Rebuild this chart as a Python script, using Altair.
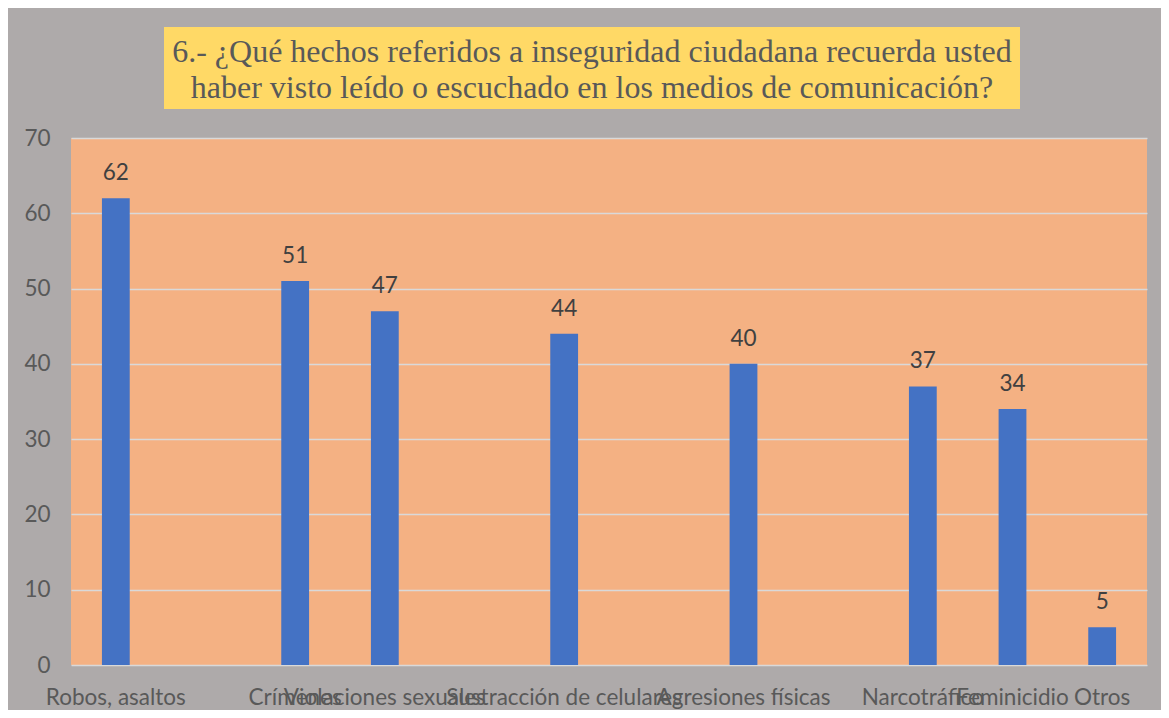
import altair as alt
import pandas as pd

# Slots on the category axis (blank strings are empty slots in the original chart)
slots = ["Robos, asaltos", " ", "Crímenes", "Violaciones sexuales", "  ",
         "Sustracción de celulares", "   ", "Agresiones físicas", "    ",
         "Narcotráfico", "Feminicidio", "Otros"]
categories = ["Robos, asaltos", "Crímenes", "Violaciones sexuales",
              "Sustracción de celulares", "Agresiones físicas",
              "Narcotráfico", "Feminicidio", "Otros"]
values = [62, 51, 47, 44, 40, 37, 34, 5]
y_ticks = [0, 10, 20, 30, 40, 50, 60, 70]
title_lines = ["6.- ¿Qué hechos referidos a inseguridad ciudadana recuerda usted",
               "haber visto leído o escuchado en los medios de comunicación?"]

df = pd.DataFrame({"cat": categories, "val": values})

LABEL_FONT = "Lato"
FS = 22.5
x = alt.X("cat:N", sort=slots,
          scale=alt.Scale(domain=slots, paddingInner=0.69, paddingOuter=0.345),
          axis=alt.Axis(title=None, labelAngle=0, labelFont=LABEL_FONT, labelFontSize=FS,
                        labelColor="#595959", labelOverlap=False, labelLimit=1000,
                        labelPadding=21, ticks=False, domain=False, labelBound=False))
y = alt.Y("val:Q", scale=alt.Scale(domain=[0, 70], nice=False),
          axis=alt.Axis(title=None, values=y_ticks, labelFont=LABEL_FONT, labelFontSize=FS,
                        labelColor="#595959", labelPadding=21, ticks=False, domain=False,
                        gridColor="#D9D9D9", gridWidth=1.5))

base = alt.Chart(df)
bars = base.mark_bar(color="#4472C4").encode(x=x, y=y)
labels = base.mark_text(font=LABEL_FONT, fontSize=FS, color="#404040", dy=-18,
                        baseline="alphabetic").encode(x=x, y=y, text="val:Q")

one = alt.Data(values=[{"t": 1}])
title_box = alt.Chart(one).mark_rect(color="#FFD966").encode(
    x=alt.value(93), x2=alt.value(949), y=alt.value(-111), y2=alt.value(-29))
title_text = alt.Chart(one).mark_text(
    font="Liberation Serif", fontSize=32, color="#595959", align="center",
    baseline="alphabetic", lineHeight=36).encode(
    x=alt.value(521), y=alt.value(-76), text=alt.value(title_lines))

chart = alt.layer(title_box, title_text, bars, labels).properties(
    width=1076, height=527,
    autosize=alt.AutoSizeParams(type="none"),
    padding={"left": 63, "top": 130, "right": 14, "bottom": 45},
    background="#AEAAAA",
).configure_view(fill="#F4B183", stroke=None)

chart.save("out.html", embed_options={"renderer": "svg", "actions": False})
